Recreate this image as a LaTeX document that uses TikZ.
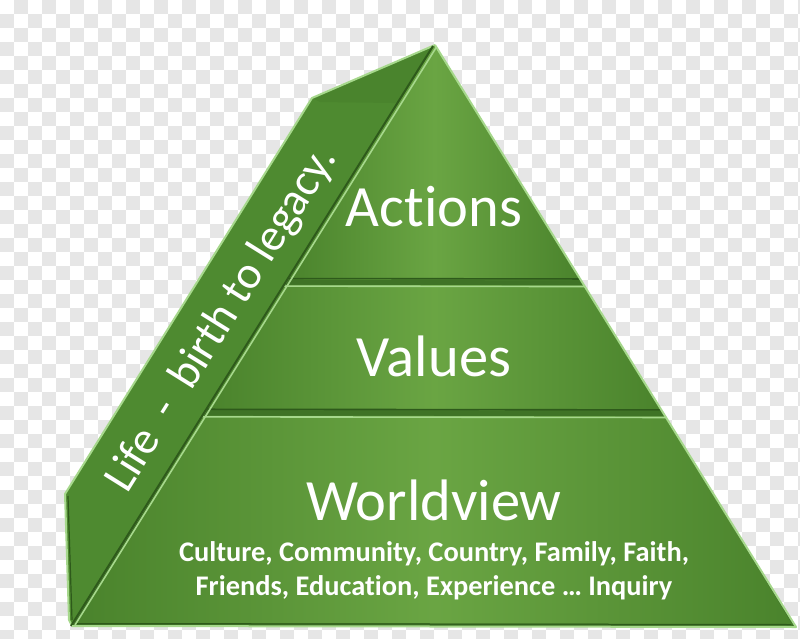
\documentclass[tikz,border=0pt]{standalone}
\usepackage{fontspec}
\setmainfont{Carlito}[RawFeature=-liga]
\usetikzlibrary{calc}
\definecolor{checkgray}{HTML}{E6E6E6}
\definecolor{gedge}{HTML}{4A832C}
\definecolor{gmid}{HTML}{6AA543}
\definecolor{gbase}{HTML}{3F7326}
\definecolor{gpanel}{HTML}{4E8A30}
\definecolor{gpaneltop}{HTML}{4A842D}
\definecolor{glight}{HTML}{A6D88C}
\definecolor{gdark}{HTML}{2E5A1B}
\tikzset{
  checker/.style={fill=checkgray, draw=none},
  bandshade/.style={left color=gedge, right color=gedge, middle color=gmid},
  hiline/.style={draw=glight, line width=2pt, line join=round},
  darkline/.style={draw=gdark, line width=1.2pt, line join=round},
  bigtext/.style={font=\fontsize{58.5}{60}\selectfont, text=white, inner sep=0pt, anchor=base},
  smalltext/.style={font=\bfseries\fontsize{28.4}{30}\selectfont, text=white, inner sep=0pt, anchor=base},
  sidetext/.style={font=\fontsize{46}{48}\selectfont, text=white, inner sep=0pt, rotate=58}
}
\begin{document}
\begin{tikzpicture}[x=1pt,y=-1pt]
\useasboundingbox (0,0) rectangle (800,639);
% transparency checkerboard
\fill[white] (0,0) rectangle (800,639);
\foreach \i in {0,...,57}{
  \foreach \j in {0,...,45}{
    \pgfmathtruncatemacro\chk{mod(\i+\j,2)}
    \ifnum\chk=1\relax
      \fill[checkgray] ({\i*14},{\j*14}) rectangle ({\i*14+14},{\j*14+14});
    \fi
  }
}
% key points
\coordinate (A) at (435,45);
\coordinate (BL) at (72,626);
\coordinate (BR) at (796,627);
\coordinate (P1) at (312,98);
\coordinate (P2) at (65,494);
\coordinate (P3) at (69,620);
% side panel
\fill[gpanel] (BL) -- (P3) -- (P2) -- (P1) -- (A) -- cycle;
\fill[gpaneltop] (P1) -- (A) -- ($(A)!0.10!(BL)$) -- ($(P1)+(8,4)$) -- cycle;
\draw[hiline] (BL) -- (P3) -- (P2) -- (P1) -- (A);
\draw[darkline] ($(P3)+(3,0)$) -- ($(P2)+(3,2)$);
% front triangle
\fill[gbase] (A) -- (BR) -- (BL) -- cycle;
\shade[bandshade] (A) -- ($(A)!0.404!(BL)$) -- ($(A)!0.404!(BR)$) -- cycle;
\shade[bandshade] ($(A)!0.413!(BL)$) -- ($(A)!0.413!(BR)$) -- ($(A)!0.628!(BR)$) -- ($(A)!0.628!(BL)$) -- cycle;
\shade[bandshade] ($(A)!0.638!(BL)$) -- ($(A)!0.638!(BR)$) -- ($(BR)+(-4,-3)$) -- ($(BL)+(5,-3)$) -- cycle;
% divider highlights
\draw[draw=glight, line width=1.6pt] ($(A)!0.415!(BL)$) -- ($(A)!0.415!(BR)$);
\draw[draw=glight, line width=1.6pt] ($(A)!0.640!(BL)$) -- ($(A)!0.640!(BR)$);
\draw[draw=gdark, line width=1.6pt] ($(A)!0.402!(BL)$) -- ($(A)!0.402!(BR)$);
\draw[draw=gdark, line width=1.6pt] ($(A)!0.627!(BL)$) -- ($(A)!0.627!(BR)$);
% edges of front triangle
\draw[draw=gdark, line width=2pt] ($(A)+(-2,1)$) -- ($(BL)+(-1,0)$);
\draw[draw=glight, line width=1.6pt] ($(A)+(1.5,2)$) -- ($(BL)+(3,-1)$);
\draw[hiline] (A) -- (BR) -- (BL);
\draw[draw=gdark, line width=1pt] ($(BR)+(-5,-2.5)$) -- ($(BL)+(5,-2.5)$);
% texts
\node[bigtext] (act) at (434,226) {Actions};
\node[bigtext] (val) at (434,376.5) {Values};
\node[bigtext] (wv) at (434,520) {Worldview};
\node[smalltext] (l1) at (434,561.5) {Culture, Community, Country, Family, Faith,};
\node[smalltext] (l2) at (434,595) {Friends, Education, Experience \dots\ Inquiry};
\node[sidetext] (side) at (222,320) {Life\ \ -\ \ birth to legacy.};
\end{tikzpicture}
\end{document}
